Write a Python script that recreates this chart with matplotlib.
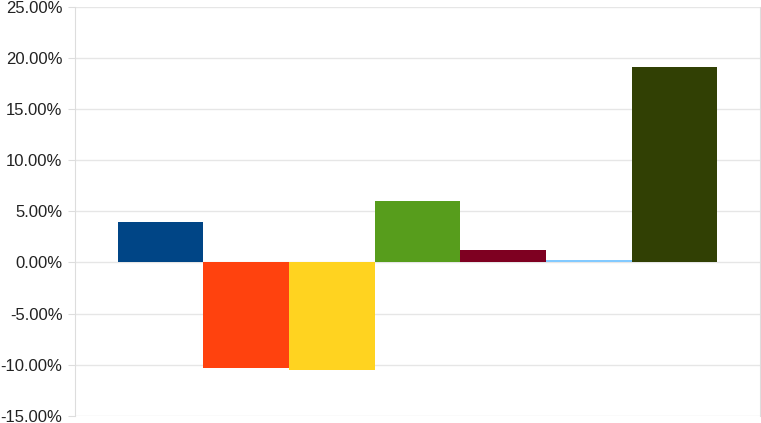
import matplotlib.pyplot as plt
from matplotlib.ticker import PercentFormatter

# valores de cada série (em %)
series = ["S1", "S2", "S3", "S4", "S5", "S6", "S7"]
values = [3.94, -10.3, -10.57, 6.03, 1.23, 0.28, 19.14]
colors = ["#004586", "#ff420e", "#ffd320", "#579d1c", "#7e0021", "#83caff", "#314004"]

plt.rcParams["font.family"] = ["Liberation Sans", "DejaVu Sans"]
plt.rcParams["axes.unicode_minus"] = False

fig = plt.figure(figsize=(7.61, 4.23), dpi=100)
ax = fig.add_axes([75 / 761, 1 - 415.7 / 423, 685 / 761, 408.7 / 423])

ax.bar(range(len(values)), values, width=1.0, color=colors, zorder=3)

ax.set_xlim(-1, len(values))
ax.set_ylim(-15, 25)
ax.set_yticks(range(-15, 26, 5))
ax.yaxis.set_major_formatter(PercentFormatter(decimals=2))
ax.set_xticks([])

ax.grid(axis="y", color="#e6e6e6", linewidth=1, zorder=0)
for s in ["top", "bottom"]:
    ax.spines[s].set_visible(False)
for s in ["left", "right"]:
    ax.spines[s].set_color("#dddddd")
ax.tick_params(axis="y", length=5, color="#dddddd", labelsize=12, pad=4, labelcolor="#222222")

fig.savefig("out.png", dpi=100)
